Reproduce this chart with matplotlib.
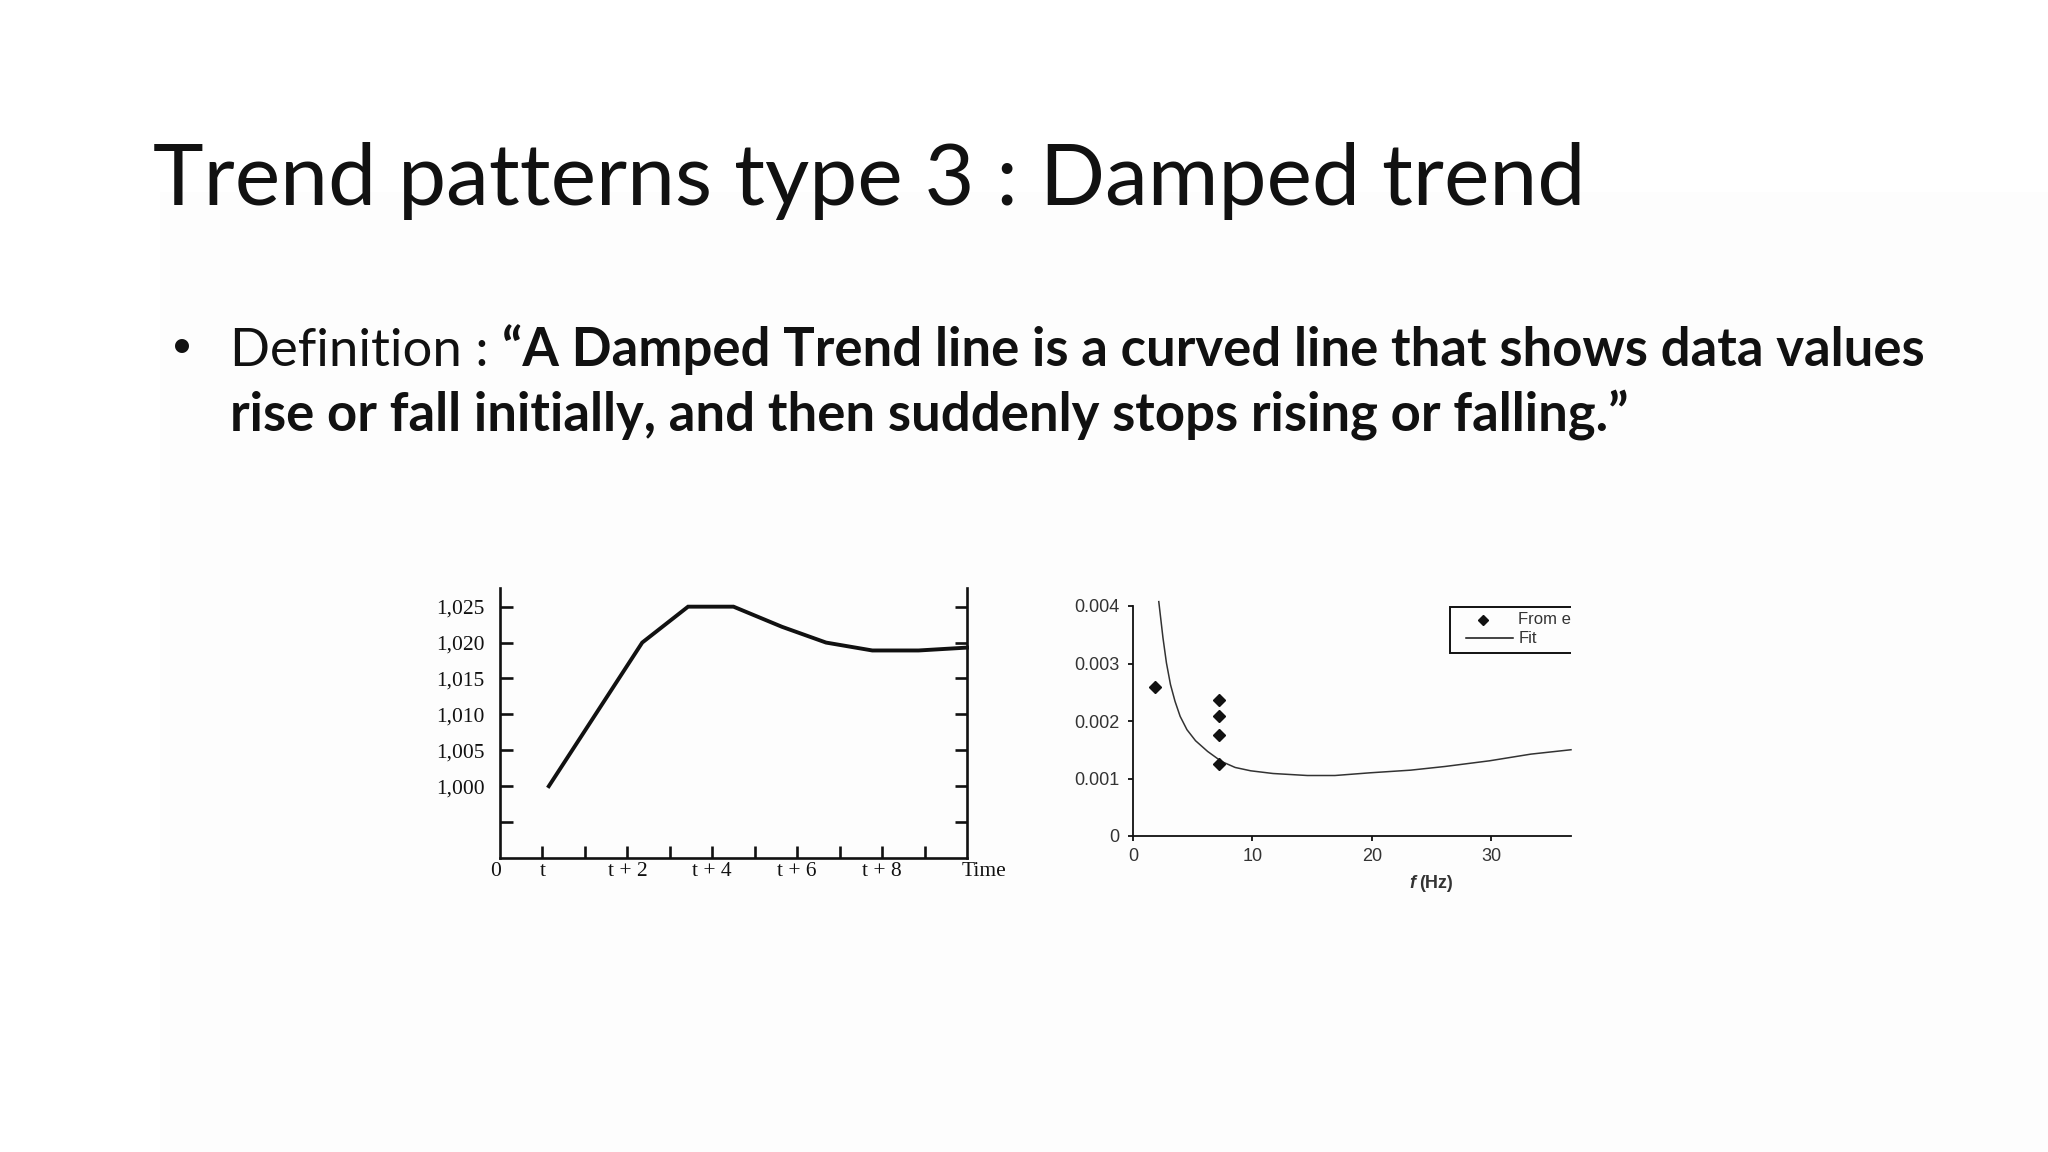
import matplotlib
matplotlib.use('Agg')
import matplotlib.pyplot as plt
from matplotlib.patches import Rectangle
from matplotlib.lines import Line2D

W, H = 2048, 1152
DPI = 100

# ---------------- text ----------------
title_text = "Trend patterns type 3 : Damped trend"
def_label = "Definition :"
def_line1 = "\u201cA Damped Trend line is a curved line that shows data values"
def_line2 = "rise or fall initially, and then suddenly stops rising or falling.\u201d"

# ---------------- left chart data ----------------
left_x = [1.15, 3.35, 4.43, 5.5, 6.64, 7.68, 8.77, 9.86, 11.0]
left_y = [1.000, 1.020, 1.025, 1.025, 1.0222, 1.020, 1.0189, 1.0189, 1.0193]
left_yticks = [0.995, 1.000, 1.005, 1.010, 1.015, 1.020, 1.025]
left_yticklabels = ['', '1,000', '1,005', '1,010', '1,015', '1,020', '1,025']
left_xticks = [1, 2, 3, 4, 5, 6, 7, 8, 9, 10]
left_xticklabels = ['t', '', 't + 2', '', 't + 4', '', 't + 6', '', 't + 8', '']

# ---------------- right chart data ----------------
exp_f = [1.87, 7.18, 7.18, 7.18, 7.18]
exp_v = [0.00259, 0.00236, 0.00209, 0.00175, 0.00126]
fit_f = [2.16, 2.51, 2.80, 3.14, 3.52, 3.95, 4.52, 5.24, 6.25, 7.41, 8.56,
         9.86, 11.73, 14.61, 16.92, 19.86, 23.26, 26.14, 29.88, 33.34, 36.7]
fit_v = [0.004076, 0.003448, 0.003012, 0.002634, 0.002343, 0.002081, 0.001849,
         0.001657, 0.001471, 0.001297, 0.001192, 0.001134, 0.001087, 0.001052,
         0.001052, 0.001099, 0.001145, 0.001209, 0.001308, 0.001424, 0.001500]
right_xticks = [0, 10, 20, 30]
right_yticks = [0, 0.001, 0.002, 0.003, 0.004]
right_yticklabels = ['0', '0.001', '0.002', '0.003', '0.004']
legend_labels = ['From experiment', 'Fit']

fig = plt.figure(figsize=(W / DPI, H / DPI), dpi=DPI)
fig.patch.set_facecolor('white')
fig.patches.append(Rectangle((160 / W, 0), 1, 1 - 192 / H, transform=fig.transFigure,
                             facecolor='#fdfdfd', edgecolor='none', zorder=-10))

r = fig.canvas.get_renderer()
SANS = ['Lato', 'DejaVu Sans']

def px_w(t):
    return t.get_window_extent(r).width

# Title
tt = fig.text(153 / W, 1 - 205 / H, title_text, fontsize=60, family=SANS,
              weight='normal', ha='left', va='baseline', color='#111111')
tt.set_fontsize(60 * 1434 / px_w(tt))

# Body
base1 = 1 - 366 / H
base2 = 1 - 430 / H
x0 = 230
s0 = 30
a = fig.text(x0 / W, base1, def_label, fontsize=s0, family=SANS, ha='left', va='baseline', color='#111111')
b = fig.text(x0 / W, base1, def_line1, fontsize=s0, family=SANS, weight='bold', ha='left', va='baseline', color='#111111')
sp = fig.text(0, 0, 'x x', fontsize=s0, family=SANS)
sq = fig.text(0, 0, 'xx', fontsize=s0, family=SANS)
tot = px_w(a) + (px_w(sp) - px_w(sq)) + px_w(b)
s = s0 * (1921 - x0) / tot
for t in (a, b, sp, sq):
    t.set_fontsize(s)
space = px_w(sp) - px_w(sq)
sp.remove(); sq.remove()
b.set_x((x0 + px_w(a) + space) / W)
fig.text(x0 / W, base2, def_line2, fontsize=s, family=SANS, weight='bold', ha='left', va='baseline', color='#111111')
fig.text(182 / W, 1 - 357 / H, '\u2022', fontsize=s * 0.72, family=SANS, ha='center', va='baseline', color='#111111')

# ---------------- left chart ----------------
SERIF = ['Liberation Serif', 'DejaVu Serif']
LFS = 15.5
ax1 = fig.add_axes([500 / W, 1 - 858 / H, (967 - 500) / W, (858 - 588) / H])
ax1.set_facecolor('none')
ax1.plot(left_x, left_y, color='#111111', lw=2.8, solid_joinstyle='miter', clip_on=False)
ax1.set_xlim(0, 11)
ax1.set_ylim(0.990, 1.0276)
ax1.spines['top'].set_visible(False)
for sname in ('left', 'right', 'bottom'):
    ax1.spines[sname].set_linewidth(1.9)
    ax1.spines[sname].set_color('#111111')
ax1.set_yticks(left_yticks)
ax1.set_yticklabels(left_yticklabels, family=SERIF, fontsize=LFS, color='#111111')
ax1.set_xticks(left_xticks)
ax1.set_xticklabels(left_xticklabels, family=SERIF, fontsize=LFS, color='#111111')
ax1.tick_params(axis='y', direction='in', length=9, width=1.9, left=True, right=True,
                labelright=False, pad=11, color='#111111')
ax1.tick_params(axis='x', direction='in', length=9, width=1.9, pad=3, color='#111111')
ax1.annotate('0', xy=(0, 0), xycoords=('data', 'axes fraction'), xytext=(-3, -3),
             textcoords='offset points', ha='center', va='top', family=SERIF,
             fontsize=LFS, color='#111111')
ax1.annotate('Time', xy=(11, 0), xycoords=('data', 'axes fraction'), xytext=(-4, -3),
             textcoords='offset points', ha='left', va='top', family=SERIF,
             fontsize=LFS, color='#111111')

# ---------------- right chart ----------------
ARIAL = ['Liberation Sans', 'DejaVu Sans']
RFS = 13
ax2 = fig.add_axes([1133 / W, 1 - 836 / H, (1571 - 1133) / W, (836 - 606) / H])
ax2.set_facecolor('none')
ax2.plot(fit_f, fit_v, color='#333333', lw=1.1, clip_on=False)
ax2.plot(exp_f, exp_v, ls='none', marker='D', ms=6.5, color='#111111')
ax2.set_xlim(0, 36.7)
ax2.set_ylim(0, 0.004)
ax2.spines['top'].set_visible(False)
ax2.spines['right'].set_visible(False)
for sname in ('left', 'bottom'):
    ax2.spines[sname].set_linewidth(1.3)
    ax2.spines[sname].set_color('#111111')
ax2.set_xticks(right_xticks)
ax2.set_xticklabels([str(v) for v in right_xticks], family=ARIAL, fontsize=RFS, color='#333333')
ax2.set_yticks(right_yticks)
ax2.set_yticklabels(right_yticklabels, family=ARIAL, fontsize=RFS, color='#333333')
ax2.tick_params(direction='out', length=3.8, width=1.3, color='#111111')
ax2.tick_params(axis='x', pad=5)
ax2.tick_params(axis='y', pad=6)

# label f (Hz)
ax2.annotate('(Hz)', xy=(24.0, -0.205), xycoords=('data', 'axes fraction'),
             ha='left', va='center', family=ARIAL, weight='bold', fontsize=RFS, color='#333333')
ax2.annotate('f', xy=(24.0, -0.205), xycoords=('data', 'axes fraction'), xytext=(-3, 0),
             textcoords='offset points', ha='right', va='center', family=ARIAL,
             weight='bold', style='italic', fontsize=RFS, color='#333333')

# legend (clipped at the right edge as in the source image)
ax2.add_patch(Rectangle((26.6, 0.003183), 20, 0.0008, fill=False, lw=1.4,
                        edgecolor='#111111', clip_on=True))
ax2.add_line(Line2D([29.3], [0.003757], ls='none', marker='D', ms=5.5, color='#111111'))
ax2.add_line(Line2D([27.9, 31.8], [0.003443, 0.003443], color='#111111', lw=1.1))
ax2.text(32.3, 0.003757, legend_labels[0], ha='left', va='center', family=ARIAL,
         fontsize=12, color='#333333', clip_on=True)
ax2.text(32.3, 0.003443, legend_labels[1], ha='left', va='center', family=ARIAL,
         fontsize=12, color='#333333', clip_on=True)

fig.savefig('out.png', dpi=DPI, facecolor='white')
